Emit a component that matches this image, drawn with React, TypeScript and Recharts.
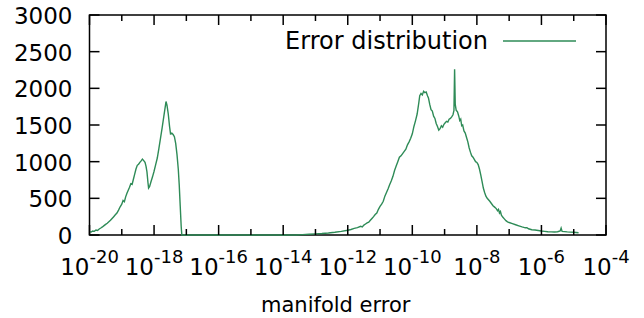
import { LineChart, Line, XAxis, YAxis, ReferenceArea, Legend } from 'recharts'

// log10 of the manifold error (bin centres)
const exponents = [
  -20.0, -19.95, -19.9, -19.85, -19.8, -19.75, -19.7, -19.65, -19.6, -19.55,
  -19.5, -19.45, -19.4, -19.35, -19.3, -19.25, -19.2, -19.15, -19.1, -19.05,
  -19.0, -18.96, -18.92, -18.88, -18.84, -18.8, -18.76, -18.72, -18.68, -18.64,
  -18.6, -18.56, -18.52, -18.48, -18.44, -18.4, -18.36, -18.32, -18.28, -18.25,
  -18.22, -18.19, -18.17, -18.14, -18.1, -18.05, -18.0, -17.95, -17.9, -17.85,
  -17.8, -17.75, -17.7, -17.66, -17.63, -17.6, -17.56, -17.52, -17.49, -17.45,
  -17.41, -17.37, -17.33, -17.29, -17.25, -17.22, -17.19, -17.16, -17.14,
  -17.0, -13.6,
  -13.4, -13.2, -13.0, -12.8, -12.6, -12.4, -12.2, -12.0, -11.9, -11.8,
  -11.7, -11.6, -11.55, -11.5, -11.45, -11.4, -11.35, -11.3, -11.25, -11.2,
  -11.15, -11.1, -11.05, -11.0, -10.95, -10.9, -10.85, -10.8, -10.75, -10.7,
  -10.65, -10.6, -10.55, -10.5, -10.45, -10.4, -10.35, -10.3, -10.25, -10.2,
  -10.15, -10.1, -10.05, -10.0, -9.95, -9.9, -9.85, -9.8, -9.77, -9.73,
  -9.69, -9.65, -9.61, -9.57, -9.53, -9.5, -9.46, -9.42, -9.38, -9.34,
  -9.3, -9.26, -9.22, -9.18, -9.14, -9.1, -9.06, -9.02, -8.98, -8.94,
  -8.9, -8.86, -8.82, -8.78, -8.74, -8.71, -8.69, -8.67, -8.64, -8.6,
  -8.56, -8.53, -8.5, -8.47, -8.44, -8.4, -8.36, -8.32, -8.28, -8.24,
  -8.2, -8.16, -8.12, -8.08, -8.04, -8.0, -7.96, -7.92, -7.88, -7.84,
  -7.8, -7.76, -7.72, -7.68, -7.64, -7.6, -7.55, -7.5, -7.45, -7.4,
  -7.36, -7.33, -7.3, -7.27, -7.24, -7.2, -7.15, -7.1, -7.05, -7.0,
  -6.9, -6.8, -6.7, -6.6, -6.5, -6.45, -6.4, -6.3, -6.2, -6.1,
  -6.0, -5.9, -5.8, -5.7, -5.6, -5.5, -5.42, -5.39, -5.36, -5.2,
  -5.0, -4.85,
]

const counts = [
  45, 40, 55, 50, 68, 62, 82, 95, 110, 128,
  145, 160, 180, 200, 225, 250, 275, 300, 340, 385,
  420, 470, 455, 520, 570, 610, 650, 700, 690, 760,
  830, 900, 950, 965, 990, 1010, 1035, 1015, 990, 940,
  860, 720, 640, 660, 720, 790, 870, 960, 1050, 1180,
  1320, 1460, 1610, 1730, 1820, 1770, 1650, 1480, 1380, 1390,
  1370, 1340, 1250, 1100, 900, 680, 400, 120, 0,
  0, 0,
  5, 10, 15, 20, 28, 38, 50, 65, 75, 90,
  100, 118, 110, 135, 150, 165, 175, 200, 225, 250,
  280, 300, 350, 390, 420, 460, 530, 580, 630, 690,
  740, 800, 880, 940, 1000, 1060, 1080, 1110, 1140, 1170,
  1230, 1270, 1320, 1380, 1480, 1560, 1650, 1800, 1900, 1930,
  1910, 1960, 1940, 1950, 1900, 1870, 1780, 1710, 1690, 1620,
  1590, 1520, 1480, 1430, 1450, 1490, 1470, 1510, 1530, 1550,
  1540, 1580, 1590, 1610, 1640, 1700, 2260, 1780, 1700, 1680,
  1620, 1560, 1580, 1490, 1500, 1420, 1390, 1330, 1270, 1190,
  1130, 1080, 1060, 1030, 1000, 990, 960, 900, 820, 730,
  640, 580, 530, 500, 480, 460, 430, 400, 380, 360,
  330, 350, 300, 320, 270, 245, 220, 195, 180, 170,
  155, 140, 125, 110, 98, 100, 85, 72, 68, 62,
  55, 50, 45, 42, 40, 44, 55, 95, 50, 42,
  38, 30,
]

// every decade gets a tick, even decades get a label
const xTicks = [-20, -19, -18, -17, -16, -15, -14, -13, -12, -11, -10, -9, -8, -7, -6, -5, -4]
const yTicks = [0, 500, 1000, 1500, 2000, 2500, 3000]

const data = exponents.map((e, i) => ({ e, count: counts[i] }))

const FONT = '"DejaVu Sans", sans-serif'
const LINE_COLOR = '#2e8b57'
const PLOT_W = 516.5
const PLOT_H = 220

function XTick({ x, y, payload }: any) {
  const v = payload.value
  const major = v % 2 === 0
  const len = major ? 10 : 6
  return (
    <g>
      <line x1={x} y1={y} x2={x} y2={y - len} stroke="#000" strokeWidth={1.5} />
      <line x1={x} y1={y - PLOT_H} x2={x} y2={y - PLOT_H + len} stroke="#000" strokeWidth={1.5} />
      {major && (
        <text x={x} y={y + 40} textAnchor="middle" fontSize={23} fontFamily={FONT} fill="#000">
          10<tspan dy={-12} fontSize={18}>{String(v)}</tspan>
        </text>
      )}
    </g>
  )
}

function YTick({ x, y, payload }: any) {
  return (
    <g>
      <line x1={x} y1={y} x2={x + 10} y2={y} stroke="#000" strokeWidth={1.5} />
      <line x1={x + PLOT_W - 10} y1={y} x2={x + PLOT_W} y2={y} stroke="#000" strokeWidth={1.5} />
      <text x={x - 17} y={y + 9} textAnchor="end" fontSize={23} fontFamily={FONT} fill="#000">
        {payload.value}
      </text>
    </g>
  )
}

function LegendContent() {
  return (
    <div style={{ display: 'flex', justifyContent: 'flex-end', alignItems: 'center', fontFamily: FONT, fontSize: 24, lineHeight: '26px', color: '#000' }}>
      <span>Error distribution</span>
      <svg width={88} height={26}>
        <line x1={15} y1={13} x2={88} y2={13} stroke={LINE_COLOR} strokeWidth={1.4} />
      </svg>
    </div>
  )
}

export default function App() {
  return (
    <div style={{ position: 'absolute', left: 0, top: 0, width: 644, height: 318, background: '#fff' }}>
      <LineChart width={644} height={318} data={data} margin={{ top: 15, right: 38, bottom: 82, left: 88.5 }}>
        <XAxis
          type="number"
          dataKey="e"
          domain={[-20, -4]}
          ticks={xTicks}
          interval={0}
          height={1}
          tickSize={0}
          tickMargin={0}
          tickLine={false}
          axisLine={false}
          tick={<XTick />}
          label={{ value: 'manifold error', position: 'bottom', offset: 61, dx: -12, fontSize: 21, fontFamily: FONT, fill: '#000' }}
        />
        <YAxis
          type="number"
          domain={[0, 3000]}
          ticks={yTicks}
          interval={0}
          width={1}
          tickSize={0}
          tickMargin={0}
          tickLine={false}
          axisLine={false}
          tick={<YTick />}
        />
        <Line type="linear" dataKey="count" stroke={LINE_COLOR} strokeWidth={1.4} dot={false} isAnimationActive={false} />
        <ReferenceArea x1={-20} x2={-4} y1={0} y2={3000} fill="none" stroke="#000" strokeWidth={1.5} />
        <Legend
          layout="vertical"
          align="center"
          verticalAlign="middle"
          content={<LegendContent />}
          wrapperStyle={{ top: 28, left: 276, width: 300 }}
        />
      </LineChart>
    </div>
  )
}
